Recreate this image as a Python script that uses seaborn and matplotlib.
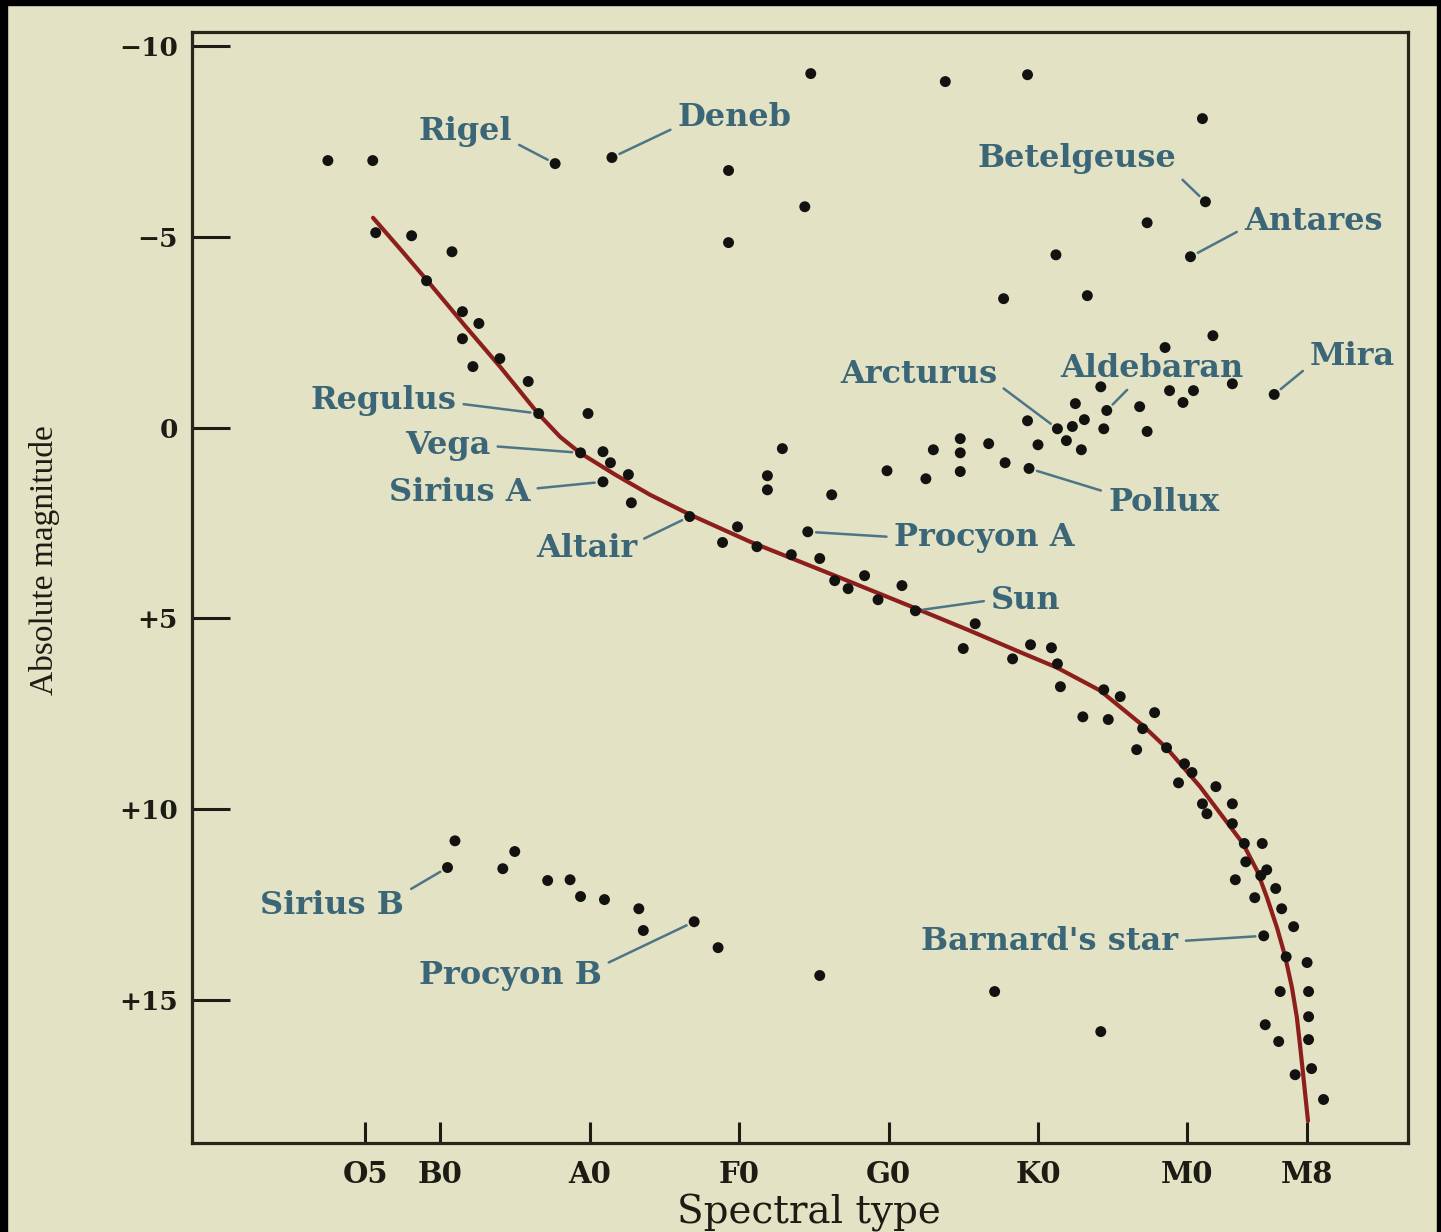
import numpy as np
import pandas as pd
import seaborn as sns
import matplotlib
matplotlib.use("Agg")
import matplotlib.pyplot as plt
from matplotlib.patches import Rectangle

# ---- spectral type is encoded as a running subclass number: O0=0, B0=10, A0=20, ... M0=60
tick_pos = [5, 10, 20, 30, 40, 50, 60, 68]
tick_lab = ["O5", "B0", "A0", "F0", "G0", "K0", "M0", "M8"]
mag_ticks = [-10, -5, 0, 5, 10, 15]
mag_tick_lab = ["\u221210", "\u22125", "0", "+5", "+10", "+15"]

# supergiants
sg_spec = [2.5, 5.5, 17.7, 21.5, 29.3, 34.8, 43.8, 49.3, 61.0, 61.2, 57.3, 60.2, 34.4, 29.3,
           51.2, 47.7, 53.3, 61.7, 58.5, 63.0, 65.8]
sg_mag = [-7.0, -7.0, -6.92, -7.08, -6.74, -9.28, -9.07, -9.25, -8.10, -5.92, -5.37, -4.48,
          -5.79, -4.85, -4.53, -3.38, -3.46, -2.41, -2.10, -1.15, -0.87]

# giants
gi_spec = [54.2, 52.5, 54.6, 56.8, 58.8, 60.4, 59.7, 49.3, 51.3, 52.3, 53.1, 54.4, 57.3,
           44.8, 43.0, 44.8, 46.7, 50.0, 51.9, 52.9, 39.9, 42.5, 44.8, 47.8, 49.4,
           32.9, 31.9, 31.9, 36.2]
gi_mag = [-1.07, -0.63, -0.45, -0.55, -0.97, -0.97, -0.66, -0.18, 0.03, -0.03, -0.21, 0.03, 0.10,
          0.29, 0.58, 0.66, 0.42, 0.45, 0.34, 0.58, 1.13, 1.34, 1.15, 0.92, 1.07,
          0.55, 1.26, 1.63, 1.76]

# main-sequence stars
ms_spec = [5.7, 8.1, 10.8, 9.1, 11.5, 12.6, 11.5, 14.0, 12.2, 15.9, 16.6, 19.9, 19.4, 20.9,
           21.4, 22.6, 20.9, 22.8, 26.7, 29.9, 28.9, 31.2, 33.5, 35.4, 34.6, 36.4, 37.3,
           38.4, 39.3, 40.9, 41.8, 45.8, 45.0, 48.3, 49.5, 50.9, 51.3, 51.5, 54.4, 55.5,
           53.0, 54.7, 57.8, 57.0, 56.6, 58.6, 59.8, 60.3, 59.4, 61.9, 61.0, 63.0, 61.3,
           63.0, 63.8, 65.0, 63.9, 65.3, 64.9, 63.2, 65.9, 64.5, 66.3, 67.1, 65.1, 66.6,
           68.0, 66.2, 68.1, 68.1, 65.2, 66.1, 68.1, 67.2, 68.3, 69.1]
ms_mag = [-5.11, -5.03, -4.61, -3.85, -3.04, -2.73, -2.33, -1.81, -1.60, -1.21, -0.37, -0.37,
          0.66, 0.63, 0.92, 1.23, 1.42, 1.97, 2.33, 2.60, 3.01, 3.12, 3.33, 3.43, 2.73, 4.01,
          4.22, 3.88, 4.51, 4.14, 4.80, 5.14, 5.79, 6.06, 5.69, 5.77, 6.19, 6.79, 6.87, 7.05,
          7.58, 7.65, 7.47, 7.89, 8.44, 8.39, 8.81, 9.04, 9.31, 9.41, 9.86, 9.86, 10.12,
          10.38, 10.90, 10.90, 11.38, 11.59, 11.74, 11.85, 12.08, 12.32, 12.61, 13.08, 13.32,
          13.87, 14.02, 14.78, 14.78, 15.44, 15.65, 16.09, 16.04, 16.96, 16.80, 17.61]

# white dwarfs and faint stars
wd_spec = [11.0, 10.5, 15.0, 14.2, 17.2, 18.7, 19.4, 21.0, 23.3, 23.6, 27.0, 28.6, 35.4, 47.1, 54.2]
wd_mag = [10.83, 11.53, 11.11, 11.56, 11.87, 11.85, 12.29, 12.37, 12.61, 13.18, 12.95, 13.63,
          14.36, 14.78, 15.83]

# main-sequence trace
curve_spec = [5.52, 7.32, 9.33, 11.67, 14.01, 16.56, 18.03, 19.36, 21.71, 24.05, 26.72, 30.74,
              36.42, 41.84, 45.25, 48.60, 51.27, 54.15, 57.02, 58.63, 60.84, 63.71, 64.65,
              65.32, 65.99, 66.52, 66.99, 67.32, 67.53, 67.73, 68.06]
curve_mag = [-5.50, -4.69, -3.77, -2.67, -1.60, -0.37, 0.24, 0.66, 1.23, 1.76, 2.28, 2.99,
             3.88, 4.74, 5.29, 5.85, 6.29, 6.89, 7.81, 8.41, 9.41, 10.90, 11.61, 12.32,
             13.11, 13.84, 14.68, 15.47, 16.20, 16.93, 18.17]

# named stars: star position, label centre, leader anchor on the label box
names = ["Rigel", "Deneb", "Betelgeuse", "Antares", "Mira", "Arcturus", "Aldebaran",
         "Regulus", "Vega", "Sirius A", "Altair", "Procyon A", "Pollux", "Sun",
         "Sirius B", "Procyon B", "Barnard's star"]
name_spec = [17.7, 21.5, 61.2, 60.2, 65.8, 51.3, 54.6, 16.6, 19.4, 20.9, 26.7, 34.6, 49.4,
             41.8, 10.5, 27.0, 65.1]
name_mag = [-6.92, -7.08, -5.92, -4.48, -0.87, 0.03, -0.45, -0.37, 0.66, 1.42, 2.33, 2.73,
            1.07, 4.80, 11.53, 12.95, 13.32]
label_spec = [11.7, 29.7, 52.6, 68.4, 71.0, 42.0, 57.6, 6.2, 10.5, 11.3, 19.8, 46.4, 58.4,
              49.2, 2.8, 14.7, 50.8]
label_mag = [-7.75, -8.14, -7.06, -5.39, -1.87, -1.40, -1.56, -0.72, 0.48, 1.69, 3.16, 2.87,
             1.95, 4.52, 12.52, 14.35, 13.46]
label_rel = [(1, 0.2), (0, 0.2), (1, 0.0), (0, 0.3), (0, 0.2), (1, 0.2), (0.4, 0.0),
             (1, 0.4), (1, 0.5), (1, 0.6), (1, 0.7), (0, 0.5), (0, 0.8), (0, 0.5),
             (1, 0.9), (1, 0.8), (1, 0.5)]

paper = "#e3e2c4"
ink = "#1c1c14"
teal = "#3a6677"

sns.set_theme(style="white")
plt.rcParams["font.family"] = ["DejaVu Serif"]

fig = plt.figure(figsize=(14.41, 12.32), dpi=100, facecolor=paper)
ax = fig.add_axes([192 / 1441, 1 - 1143 / 1232, (1408 - 192) / 1441, (1143 - 32) / 1232])
ax.set_facecolor(paper)

stars = pd.DataFrame({
    "spec": sg_spec + gi_spec + ms_spec + wd_spec,
    "mag": sg_mag + gi_mag + ms_mag + wd_mag,
})
curve = pd.DataFrame({"spec": curve_spec, "mag": curve_mag})

sns.lineplot(data=curve, x="spec", y="mag", sort=False, estimator=None,
             color="#8c1f1c", lw=3.0, ax=ax, zorder=2)
ax.lines[-1].set_solid_joinstyle("round")
sns.scatterplot(data=stars, x="spec", y="mag", color="#121210", s=62,
                edgecolor="none", ax=ax, zorder=3, legend=False)

for nm, sx, sy, lx, ly, rel in zip(names, name_spec, name_mag, label_spec, label_mag, label_rel):
    ax.annotate(nm, xy=(sx, sy), xytext=(lx, ly), textcoords="data",
                ha="center", va="center", fontsize=23, fontweight="bold", color=teal,
                arrowprops=dict(arrowstyle="-", color="#4d7585", lw=1.8,
                                shrinkA=3, shrinkB=6, relpos=rel))

ax.set_xlim(-6.59, 74.75)
ax.set_ylim(18.75, -10.37)
ax.set_xticks(tick_pos)
ax.set_xticklabels(tick_lab)
ax.set_yticks(mag_ticks)
ax.set_yticklabels(mag_tick_lab)
ax.tick_params(axis="y", direction="in", length=27, width=2.2, pad=10, colors=ink,
               labelsize=19, left=True)
ax.tick_params(axis="x", direction="in", length=15, width=2.2, pad=12, colors=ink,
               labelsize=21, bottom=True)
for lab in ax.get_xticklabels() + ax.get_yticklabels():
    lab.set_fontweight("bold")

for sp in ax.spines.values():
    sp.set_color("#26261a")
    sp.set_linewidth(2.3)

ax.set_ylabel("Absolute magnitude", fontsize=24, family="Liberation Serif", color=ink,
              va="center")
ax.yaxis.set_label_coords(-0.121, 0.525)
ax.set_xlabel("Spectral type", fontsize=28, color=ink, va="center")
ax.xaxis.set_label_coords(0.507, -0.063)

# dark scan margins
fig.add_artist(Rectangle((0, 0), 7 / 1441, 1, transform=fig.transFigure, color="black"))
fig.add_artist(Rectangle((0, 1 - 5 / 1232), 1, 5 / 1232, transform=fig.transFigure, color="black"))
fig.add_artist(Rectangle((1 - 4 / 1441, 0), 4 / 1441, 1, transform=fig.transFigure, color="black"))

fig.savefig("out.png", dpi=100, facecolor=paper)
